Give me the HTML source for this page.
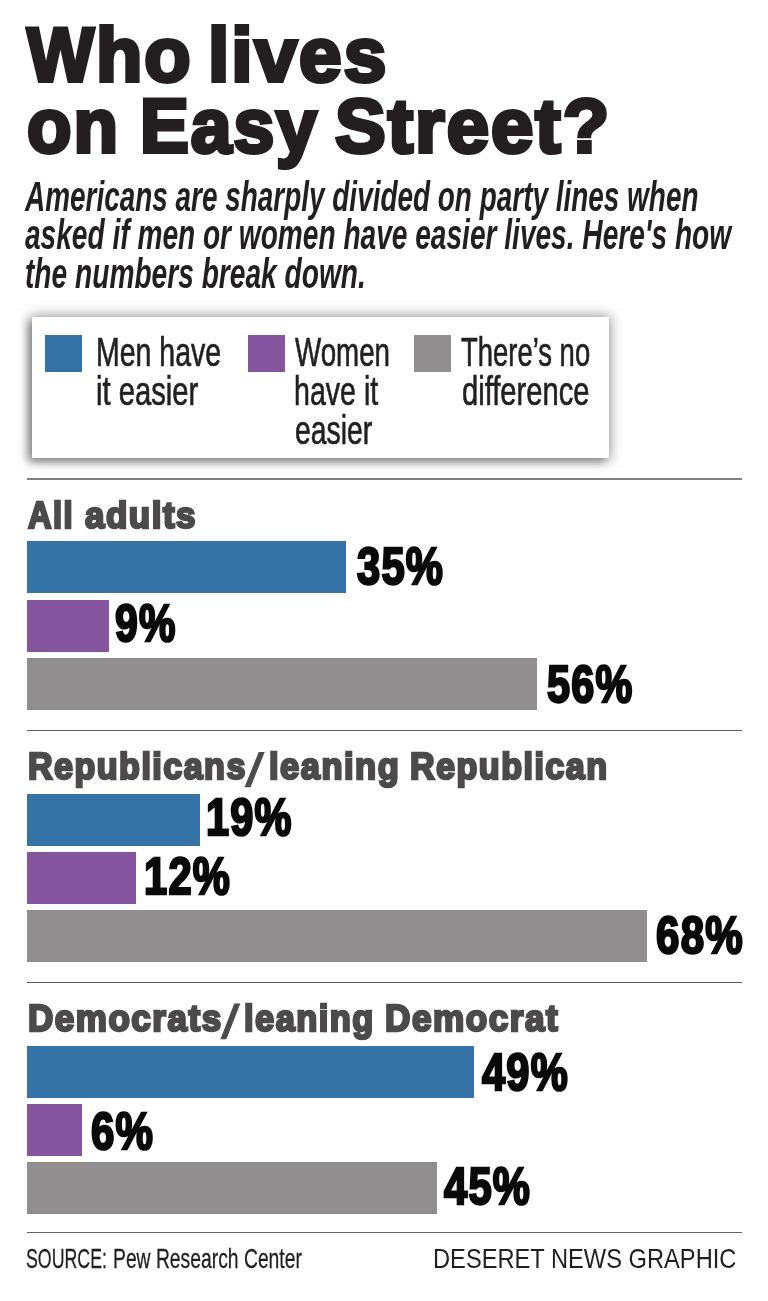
<!DOCTYPE html>
<html><head><meta charset="utf-8"><title>Who lives on Easy Street?</title>
<style>
html,body{margin:0;padding:0;background:#fff}
#c{position:relative;width:768px;height:1301px;overflow:hidden;background:#fff;will-change:transform;font-family:"Liberation Sans",sans-serif}
.t{position:absolute;white-space:nowrap;line-height:1;font-family:"Liberation Sans",sans-serif;transform-origin:0 0}
.b{position:absolute;left:27px;height:52px}
.r{position:absolute;left:26.5px;width:715.7px}
#lg{position:absolute;left:32px;top:316.7px;width:577.2px;height:141.3px;background:#fff;box-shadow:0 0 12px 2px rgba(0,0,0,.34),-4px 4px 8px 0 rgba(0,0,0,.32)}
.sw{position:absolute;top:335.3px;width:37.1px;height:37px}
</style></head><body><div id="c">
<div id="lg"></div>
<div class="sw" style="left:45px;background:#3572a5"></div>
<div class="sw" style="left:248.2px;background:#85559f"></div>
<div class="sw" style="left:413.9px;background:#918e8f"></div>
<div class="r" style="top:477.9px;height:1.9px;background:#808082"></div><div class="r" style="top:729.9px;height:1.25px;background:#5f5f61"></div><div class="r" style="top:981.8px;height:1.25px;background:#5c5c5e"></div><div class="r" style="top:1231.9px;height:1.4px;background:#636365"></div>
<svg style="position:absolute;left:0;top:0" width="768" height="1301"><polygon fill="#4d4a4b" points="244.5,787.3 250.5,787.3 264.7,752.1 258.7,752.1"/><polygon fill="#4d4a4b" points="220.4,1039.3 226.4,1039.3 240.3,1003.5 234.3,1003.5"/></svg>
<div class="b" style="top:541.4px;width:319.0px;background:#3572a5"></div><div class="b" style="top:599.5px;width:82.0px;background:#85559f"></div><div class="b" style="top:657.6px;width:510.4px;background:#918e8f"></div><div class="b" style="top:794.0px;width:173.2px;background:#3572a5"></div><div class="b" style="top:852.1px;width:109.4px;background:#85559f"></div><div class="b" style="top:910.2px;width:619.8px;background:#918e8f"></div><div class="b" style="top:1045.8px;width:446.6px;background:#3572a5"></div><div class="b" style="top:1103.9px;width:54.7px;background:#85559f"></div><div class="b" style="top:1162.0px;width:410.2px;background:#918e8f"></div>
<span class="t" style="left:27.47px;top:16.83px;font-size:76px;font-weight:700;color:#231f20;-webkit-text-stroke:4px #231f20;letter-spacing:2px;transform:scaleX(0.9333)">W</span>
<span class="t" style="left:96.4px;top:16.83px;font-size:76px;font-weight:700;color:#231f20;-webkit-text-stroke:4px #231f20;letter-spacing:2px;transform:scaleX(0.998)">ho</span>
<span class="t" style="left:208.47px;top:16.83px;font-size:76px;font-weight:700;color:#231f20;-webkit-text-stroke:4px #231f20;letter-spacing:2px;transform:scaleX(1.0068)">lives</span>
<span class="t" style="left:27.25px;top:88.33px;font-size:76px;font-weight:700;color:#231f20;-webkit-text-stroke:4px #231f20;letter-spacing:2px;transform:scaleX(0.9583)">on</span>
<span class="t" style="left:139.91px;top:88.33px;font-size:76px;font-weight:700;color:#231f20;-webkit-text-stroke:4px #231f20;letter-spacing:2px;transform:scaleX(0.9634)">Easy</span>
<span class="t" style="left:334.5px;top:88.33px;font-size:76px;font-weight:700;color:#231f20;-webkit-text-stroke:4px #231f20;letter-spacing:2px;transform:scaleX(1.0011)">Street?</span>
<span class="t" style="left:24.66px;top:175.83px;font-size:42.5px;font-weight:700;color:#231f20;font-style:italic;transform:scaleX(0.657)">Americans are sharply divided on party lines when</span>
<span class="t" style="left:25.22px;top:213.73px;font-size:42.5px;font-weight:700;color:#231f20;font-style:italic;transform:scaleX(0.6609)">asked if men or women have easier lives. Here's how</span>
<span class="t" style="left:25.08px;top:252.73px;font-size:42.5px;font-weight:700;color:#231f20;font-style:italic;transform:scaleX(0.6619)">the numbers break down.</span>
<span class="t" style="left:96.27px;top:331.78px;font-size:40.6px;font-weight:400;color:#231f20;-webkit-text-stroke:0.7px #231f20;transform:scaleX(0.702)">Men have</span>
<span class="t" style="left:96.47px;top:370.88px;font-size:40.6px;font-weight:400;color:#231f20;-webkit-text-stroke:0.7px #231f20;transform:scaleX(0.7197)">it easier</span>
<span class="t" style="left:294.5px;top:331.78px;font-size:40.6px;font-weight:400;color:#231f20;-webkit-text-stroke:0.7px #231f20;transform:scaleX(0.6828)">Women</span>
<span class="t" style="left:294.1px;top:370.88px;font-size:40.6px;font-weight:400;color:#231f20;-webkit-text-stroke:0.7px #231f20;transform:scaleX(0.7041)">have it</span>
<span class="t" style="left:294.51px;top:410.38px;font-size:40.6px;font-weight:400;color:#231f20;-webkit-text-stroke:0.7px #231f20;transform:scaleX(0.6989)">easier</span>
<span class="t" style="left:461.21px;top:331.78px;font-size:40.6px;font-weight:400;color:#231f20;-webkit-text-stroke:0.7px #231f20;transform:scaleX(0.6762)">There’s no</span>
<span class="t" style="left:461.79px;top:370.88px;font-size:40.6px;font-weight:400;color:#231f20;-webkit-text-stroke:0.7px #231f20;transform:scaleX(0.7178)">difference</span>
<span class="t" style="left:28.09px;top:497.02px;font-size:37px;font-weight:700;color:#4d4a4b;-webkit-text-stroke:2.5px #4d4a4b;letter-spacing:1.6px;transform:scaleX(0.8802)">All</span>
<span class="t" style="left:85.24px;top:497.02px;font-size:37px;font-weight:700;color:#4d4a4b;-webkit-text-stroke:2.5px #4d4a4b;letter-spacing:1.6px;transform:scaleX(0.9454)">adults</span>
<span class="t" style="left:28.2px;top:748.32px;font-size:37px;font-weight:700;color:#4d4a4b;-webkit-text-stroke:2.5px #4d4a4b;letter-spacing:1.6px;transform:scaleX(0.921)">Republicans</span>
<span class="t" style="left:268.78px;top:748.32px;font-size:37px;font-weight:700;color:#4d4a4b;-webkit-text-stroke:2.5px #4d4a4b;letter-spacing:1.6px;transform:scaleX(0.9328)">leaning</span>
<span class="t" style="left:410.4px;top:748.32px;font-size:37px;font-weight:700;color:#4d4a4b;-webkit-text-stroke:2.5px #4d4a4b;letter-spacing:1.6px;transform:scaleX(0.9217)">Republican</span>
<span class="t" style="left:28.18px;top:1000.12px;font-size:37px;font-weight:700;color:#4d4a4b;-webkit-text-stroke:2.5px #4d4a4b;letter-spacing:1.6px;transform:scaleX(0.9465)">Democrats</span>
<span class="t" style="left:244.38px;top:1000.12px;font-size:37px;font-weight:700;color:#4d4a4b;-webkit-text-stroke:2.5px #4d4a4b;letter-spacing:1.6px;transform:scaleX(0.9292)">leaning</span>
<span class="t" style="left:385.08px;top:1000.12px;font-size:37px;font-weight:700;color:#4d4a4b;-webkit-text-stroke:2.5px #4d4a4b;letter-spacing:1.6px;transform:scaleX(0.9492)">Democrat</span>
<span class="t" style="left:357.32px;top:540.31px;font-size:52.0px;font-weight:700;color:#0a0a0a;-webkit-text-stroke:2.5px #0a0a0a;letter-spacing:1.5px;transform:scaleX(0.8024)">35%</span>
<span class="t" style="left:115.04px;top:596.61px;font-size:52.0px;font-weight:700;color:#0a0a0a;-webkit-text-stroke:2.5px #0a0a0a;letter-spacing:1.5px;transform:scaleX(0.7885)">9%</span>
<span class="t" style="left:546.68px;top:657.91px;font-size:52.0px;font-weight:700;color:#0a0a0a;-webkit-text-stroke:2.5px #0a0a0a;letter-spacing:1.5px;transform:scaleX(0.7962)">56%</span>
<span class="t" style="left:205.67px;top:791.31px;font-size:52.0px;font-weight:700;color:#0a0a0a;-webkit-text-stroke:2.5px #0a0a0a;letter-spacing:1.5px;transform:scaleX(0.7991)">19%</span>
<span class="t" style="left:143.86px;top:850.41px;font-size:52.0px;font-weight:700;color:#0a0a0a;-webkit-text-stroke:2.5px #0a0a0a;letter-spacing:1.5px;transform:scaleX(0.802)">12%</span>
<span class="t" style="left:655.54px;top:909.11px;font-size:52.0px;font-weight:700;color:#0a0a0a;-webkit-text-stroke:2.5px #0a0a0a;letter-spacing:1.5px;transform:scaleX(0.8097)">68%</span>
<span class="t" style="left:481.86px;top:1045.51px;font-size:52.0px;font-weight:700;color:#0a0a0a;-webkit-text-stroke:2.5px #0a0a0a;letter-spacing:1.5px;transform:scaleX(0.8011)">49%</span>
<span class="t" style="left:91.34px;top:1105.01px;font-size:52.0px;font-weight:700;color:#0a0a0a;-webkit-text-stroke:2.5px #0a0a0a;letter-spacing:1.5px;transform:scaleX(0.8094)">6%</span>
<span class="t" style="left:443.96px;top:1159.61px;font-size:52.0px;font-weight:700;color:#0a0a0a;-webkit-text-stroke:2.5px #0a0a0a;letter-spacing:1.5px;transform:scaleX(0.802)">45%</span>
<span class="t" style="left:26.19px;top:1243.78px;font-size:28.3px;font-weight:400;color:#231f20;-webkit-text-stroke:0.3px #231f20;transform:scaleX(0.6276)">SOURCE:</span>
<span class="t" style="left:112.96px;top:1243.78px;font-size:28.3px;font-weight:400;color:#231f20;-webkit-text-stroke:0.3px #231f20;transform:scaleX(0.6824)">Pew Research Center</span>
<span class="t" style="left:433.11px;top:1244.83px;font-size:27.5px;font-weight:400;color:#231f20;transform:scaleX(0.8608)">DESERET NEWS GRAPHIC</span>
</div></body></html>
